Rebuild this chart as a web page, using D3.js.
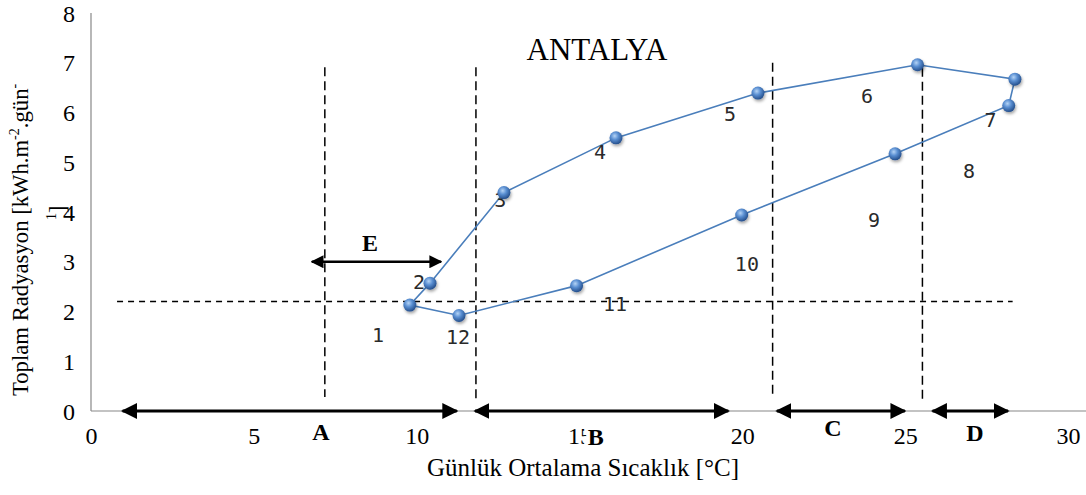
<!DOCTYPE html>
<html>
<head>
<meta charset="utf-8">
<script src="https://cdn.jsdelivr.net/npm/d3@7"></script>
<style>
  body { margin: 0; background: #fff; }
  svg { display: block; }
  .month { font-family: "DejaVu Sans Mono", monospace; font-size: 20px; fill: #2a2a2a; }
  .zone { font-family: "Liberation Serif", serif; font-size: 24px; font-weight: bold; fill: #000; }
</style>
</head>
<body>
<svg id="chart"></svg>
<script>
const W = 1086, H = 495
const SERIF = '"Liberation Serif", "Times New Roman", serif'

// monthly mean temperature [°C] and total radiation [kWh/m2/day], months 1..12
const temps = [9.79, 10.41, 12.68, 16.12, 20.48, 25.38, 28.37, 28.18, 24.69, 19.98, 14.91, 11.30]
const rads = [2.13, 2.57, 4.39, 5.49, 6.39, 6.96, 6.67, 6.14, 5.17, 3.94, 2.52, 1.92]

// month numbers and where they are written (data units)
const monthNames = ['1', '2', '3', '4', '5', '6', '7', '8', '9', '10', '11', '12']
const monthLabelX = [8.81, 10.07, 12.57, 15.63, 19.62, 23.83, 27.62, 26.96, 24.04, 20.14, 16.09, 11.27]
const monthLabelY = [1.53, 2.59, 4.24, 5.21, 5.97, 6.33, 5.85, 4.82, 3.84, 2.95, 2.15, 1.49]

// zone arrows on the temperature axis
const zones = ['A', 'B', 'C', 'D']
const zoneStart = [0.97, 11.79, 21.06, 25.84]
const zoneEnd = [11.23, 19.57, 24.99, 28.16]
const zoneLabelX = [7.06, 15.5, 22.78, 27.14]
const zoneLabelY = [-0.42, -0.52, -0.34, -0.44]

// E arrow
const eArrow = { x0: 6.78, x1: 10.75, y: 3.0, lx: 8.57, ly: 3.38 }

// dashed guide lines
const vLineX = [7.18, 11.82, 20.93, 25.53]
const vLineTop = [6.91, 6.91, 7.0, 6.9]
const vLineBottom = [0.28, 0.18, 0.28, 0.18]
const hLine = { y: 2.2, x0: 0.8, x1: 28.3 }

const xTicks = [0, 5, 10, 15, 20, 25, 30]
const yTicks = [0, 1, 2, 3, 4, 5, 6, 7, 8]

const x = d3.scaleLinear().domain([0, 30]).range([91, 1068])
const y = d3.scaleLinear().domain([0, 8]).range([411, 13])

const svg = d3.select('#chart').attr('width', W).attr('height', H)

// defs: sphere gradient, arrow heads, shadow
const defs = svg.append('defs')
const grad = defs.append('radialGradient').attr('id', 'ball')
    .attr('cx', '40%').attr('cy', '35%').attr('r', '65%')
grad.append('stop').attr('offset', '0%').attr('stop-color', '#b4d3f5')
grad.append('stop').attr('offset', '45%').attr('stop-color', '#5a8fd2')
grad.append('stop').attr('offset', '100%').attr('stop-color', '#254f8c')
const shadow = defs.append('filter').attr('id', 'shadow').attr('x', '-50%').attr('y', '-50%').attr('width', '200%').attr('height', '200%')
shadow.append('feDropShadow').attr('dx', 1).attr('dy', 2).attr('stdDeviation', 1.5).attr('flood-color', '#000').attr('flood-opacity', 0.35)
defs.append('marker').attr('id', 'head').attr('viewBox', '0 0 10 10')
    .attr('refX', 9).attr('refY', 5).attr('markerWidth', 5).attr('markerHeight', 5)
    .attr('markerUnits', 'strokeWidth').attr('orient', 'auto-start-reverse')
  .append('path').attr('d', 'M0 0 L10 5 L0 10 Z').attr('fill', '#000')

// axes
svg.append('line')
    .attr('x1', x(0)).attr('x2', W).attr('y1', y(0)).attr('y2', y(0))
    .attr('stroke', '#888').attr('stroke-width', 1.2)
svg.append('line')
    .attr('x1', x(0)).attr('x2', x(0)).attr('y1', y(0)).attr('y2', y(8))
    .attr('stroke', '#888').attr('stroke-width', 1.2)

svg.append('g').attr('transform', `translate(0,${y(0) + 8})`)
    .call(d3.axisBottom(x).tickValues(xTicks).tickSize(0).tickPadding(8))
    .call(g => g.select('.domain').remove())
    .call(g => g.selectAll('.tick text')
        .style('font-family', SERIF).style('font-size', '24px').attr('fill', '#000'))
svg.append('g').attr('transform', `translate(${x(0) - 11},0)`)
    .call(d3.axisLeft(y).tickValues(yTicks).tickSize(0).tickPadding(5))
    .call(g => g.select('.domain').remove())
    .call(g => g.selectAll('.tick text').attr('dy', '0.34em')
        .style('font-family', SERIF).style('font-size', '24px').attr('fill', '#000'))

// axis titles
svg.append('text')
    .attr('x', 583).attr('y', 476)
    .attr('text-anchor', 'middle')
    .style('font-family', SERIF).attr('font-size', 25)
    .text('Günlük Ortalama Sıcaklık [°C]')

const yTitle = svg.append('text')
    .attr('transform', 'translate(28,396) rotate(-90)')
    .style('font-family', SERIF).attr('font-size', 22.7)
yTitle.append('tspan').text('Toplam Radyasyon [kWh.m')
yTitle.append('tspan').attr('dy', -9).attr('font-size', 14).text('-2')
yTitle.append('tspan').attr('dy', 9).text('.gün')
yTitle.append('tspan').attr('dy', -9).attr('font-size', 14).text('-')
svg.append('text')
    .attr('transform', 'translate(65,220) rotate(-90)')
    .style('font-family', SERIF).attr('font-size', 22.7)
  .call(t => t.append('tspan').attr('dy', -9).attr('font-size', 14).text('1'))
  .call(t => t.append('tspan').attr('dy', 9).text(']'))

// title
svg.append('text')
    .attr('x', 597).attr('y', 60)
    .attr('text-anchor', 'middle')
    .style('font-family', SERIF).attr('font-size', 31)
    .text('ANTALYA')

// dashed guides
svg.append('g').selectAll('line').data(vLineX).join('line')
    .attr('x1', d => x(d)).attr('x2', d => x(d))
    .attr('y1', (d, i) => y(vLineTop[i])).attr('y2', (d, i) => y(vLineBottom[i]))
    .attr('stroke', '#000').attr('stroke-width', 1.5).attr('stroke-dasharray', '9,5')
svg.append('line')
    .attr('x1', x(hLine.x0)).attr('x2', x(hLine.x1))
    .attr('y1', y(hLine.y)).attr('y2', y(hLine.y))
    .attr('stroke', '#000').attr('stroke-width', 1.5).attr('stroke-dasharray', '6,5')

// zone arrows
svg.append('g').selectAll('line').data(zones).join('line')
    .attr('x1', (d, i) => x(zoneStart[i])).attr('x2', (d, i) => x(zoneEnd[i]))
    .attr('y1', y(0)).attr('y2', y(0))
    .attr('stroke', '#000').attr('stroke-width', 3.2)
    .attr('marker-start', 'url(#head)').attr('marker-end', 'url(#head)')
svg.append('g').selectAll('text').data(zones).join('text')
    .attr('class', 'zone')
    .attr('x', (d, i) => x(zoneLabelX[i])).attr('y', (d, i) => y(zoneLabelY[i]))
    .attr('text-anchor', 'middle').attr('dy', '0.35em')
    .attr('paint-order', 'stroke').attr('stroke', '#fff').attr('stroke-width', 8)
    .text(d => d)

svg.append('line')
    .attr('x1', x(eArrow.x0)).attr('x2', x(eArrow.x1))
    .attr('y1', y(eArrow.y)).attr('y2', y(eArrow.y))
    .attr('stroke', '#000').attr('stroke-width', 2.6)
    .attr('marker-start', 'url(#head)').attr('marker-end', 'url(#head)')
svg.append('text').attr('class', 'zone')
    .attr('x', x(eArrow.lx)).attr('y', y(eArrow.ly))
    .attr('text-anchor', 'middle').attr('dy', '0.35em').attr('font-size', 22)
    .text('E')

// loop line (closed)
const pts = temps.map((t, i) => [t, rads[i]])
svg.append('path')
    .datum(pts)
    .attr('d', d3.line().x(d => x(d[0])).y(d => y(d[1])).curve(d3.curveLinearClosed))
    .attr('fill', 'none').attr('stroke', '#4a7ebb').attr('stroke-width', 1.6)

// month labels
svg.append('g').selectAll('text').data(monthNames).join('text')
    .attr('class', 'month')
    .attr('x', (d, i) => x(monthLabelX[i])).attr('y', (d, i) => y(monthLabelY[i]))
    .attr('text-anchor', 'middle').attr('dy', '0.35em')
    .text(d => d)

// markers
svg.append('g').selectAll('circle').data(pts).join('circle')
    .attr('cx', d => x(d[0])).attr('cy', d => y(d[1])).attr('r', 6.5)
    .attr('fill', 'url(#ball)').attr('filter', 'url(#shadow)')
</script>
</body>
</html>
